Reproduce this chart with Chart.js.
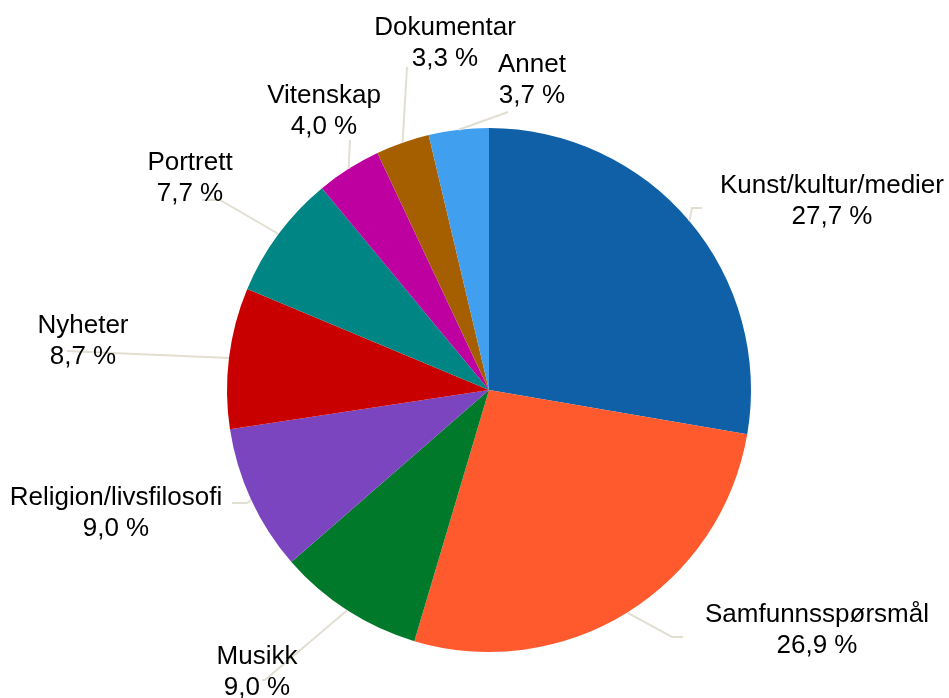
<!DOCTYPE html>
<html>
<head>
<meta charset="utf-8">
<script src="https://cdn.jsdelivr.net/npm/chart.js@4/dist/chart.umd.min.js"></script>
<style>
  html, body { margin: 0; padding: 0; background: #fff; }
  #wrap { width: 949px; height: 698px; }
</style>
</head>
<body>
<div id="wrap"><canvas id="pie"></canvas></div>
<script>
const categories = ['Kunst/kultur/medier', 'Samfunnsspørsmål', 'Musikk', 'Religion/livsfilosofi',
  'Nyheter', 'Portrett', 'Vitenskap', 'Dokumentar', 'Annet'];
const shares = [27.7, 26.9, 9.0, 9.0, 8.7, 7.7, 4.0, 3.3, 3.7];
const colors = ['#1060A8', '#FF5A2E', '#007A2A', '#7C45C0', '#C80000', '#008585', '#BF00A0', '#A65F00', '#419FF0'];

// where each label sits, relative to the pie centre (text centre, leader knee, horizontal tail)
const labelSpots = [
  { tx: 343, ty: -190, kx: 203, ky: -182, tail: 10 },
  { tx: 328, ty: 239, kx: 183, ky: 247, tail: 11 },
  { tx: -232, ty: 281, kx: -224, ky: 290, tail: -3 },
  { tx: -373, ty: 122, kx: -242, ky: 113, tail: -15 },
  { tx: -406, ty: -50, kx: -422, ky: -39, tail: 0 },
  { tx: -299, ty: -213, kx: -269, ky: -190, tail: -18 },
  { tx: -165, ty: -280, kx: -139, ky: -250, tail: 0 },
  { tx: -44, ty: -348, kx: -82, ky: -323, tail: 0 },
  { tx: 43, ty: -311, kx: 19, ky: -278, tail: 0 }
];

const fmt = v => v.toFixed(1).replace('.', ',') + ' %';

const outsideLabels = {
  id: 'outsideLabels',
  afterDatasetsDraw(chart) {
    const ctx = chart.ctx;
    const arcs = chart.getDatasetMeta(0).data;
    ctx.save();
    // leader lines first, text on top
    ctx.strokeStyle = '#E3DED2';
    ctx.lineWidth = 2;
    arcs.forEach((arc, i) => {
      const s = labelSpots[i];
      const p = arc.getProps(['x', 'y', 'startAngle', 'endAngle', 'outerRadius'], true);
      const mid = (p.startAngle + p.endAngle) / 2;
      const ex = p.x + Math.cos(mid) * p.outerRadius;
      const ey = p.y + Math.sin(mid) * p.outerRadius;
      ctx.beginPath();
      ctx.moveTo(ex, ey);
      ctx.lineTo(p.x + s.kx, p.y + s.ky);
      if (s.tail) ctx.lineTo(p.x + s.kx + s.tail, p.y + s.ky);
      ctx.stroke();
    });
    ctx.fillStyle = '#000';
    ctx.font = '26px "Liberation Sans", Arial, sans-serif';
    ctx.textAlign = 'center';
    ctx.textBaseline = 'middle';
    arcs.forEach((arc, i) => {
      const s = labelSpots[i];
      const cx = arc.x + s.tx, cy = arc.y + s.ty;
      ctx.fillText(categories[i], cx, cy - 14);
      ctx.fillText(fmt(shares[i]), cx, cy + 17);
    });
    ctx.restore();
  }
};

new Chart(document.getElementById('pie'), {
  type: 'pie',
  data: {
    labels: categories,
    datasets: [{
      data: shares,
      backgroundColor: colors,
      borderWidth: 0
    }]
  },
  options: {
    responsive: true,
    maintainAspectRatio: false,
    animation: false,
    layout: { padding: { top: 128, bottom: 46, left: 227, right: 198 } },
    plugins: {
      legend: { display: false },
      tooltip: { enabled: false }
    }
  },
  plugins: [outsideLabels]
});
</script>
</body>
</html>
